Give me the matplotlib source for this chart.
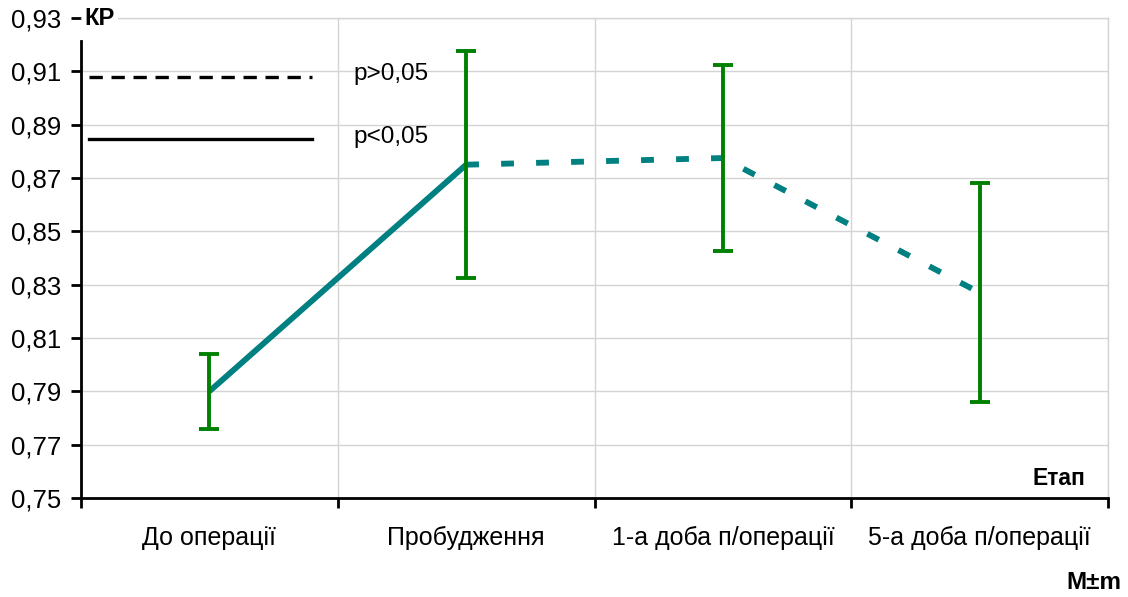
import matplotlib
matplotlib.use('Agg')
import matplotlib.pyplot as plt
import numpy as np

plt.rcParams['font.family'] = ['Liberation Sans', 'DejaVu Sans']

stages = ['До операції', 'Пробудження', '1-а доба п/операції', '5-а доба п/операції']
kr_mean = [0.790, 0.875, 0.8775, 0.827]
kr_err = [0.014, 0.0425, 0.035, 0.041]
y_ticks = [0.75, 0.77, 0.79, 0.81, 0.83, 0.85, 0.87, 0.89, 0.91, 0.93]

teal = '#008080'
green = '#008000'

fig = plt.figure(figsize=(11.28, 5.97), dpi=100)
ax = fig.add_axes([0.0718, 0.1658, 0.9105, 0.804])

x = np.arange(len(stages)) + 0.5
ax.set_xlim(0, len(stages))
ax.set_ylim(0.75, 0.93)

# grid
for yv in y_ticks[1:]:
    ax.axhline(yv, color='#d4d4d4', lw=1, zorder=0)
for xv in range(1, len(stages) + 1):
    ax.axvline(xv, color='#d4d4d4', lw=1, zorder=0)

# main line: solid for first segment, dashed for the rest
ax.plot(x[:2], kr_mean[:2], color=teal, lw=4.2, solid_capstyle='butt', zorder=3)
ax.plot(x[1:], kr_mean[1:], color=teal, lw=4.2, dashes=(2.2, 3.8), zorder=3)

ax.errorbar(x, kr_mean, yerr=kr_err, fmt='none', ecolor=green, elinewidth=2.8,
            capsize=7.5, capthick=2.8, zorder=4)

# legend drawn as lines
ax.plot([0.03, 0.9], [0.908, 0.908], color='black', lw=2.4, dashes=(4, 2.6))
ax.plot([0.03, 0.9], [0.8845, 0.8845], color='black', lw=2.4)
ax.text(1.06, 0.909, 'p>0,05', fontsize=17.5, va='center', ha='left')
ax.text(1.06, 0.8855, 'p<0,05', fontsize=17.5, va='center', ha='left')

# spines
for s in ['top', 'right']:
    ax.spines[s].set_color('#d4d4d4')
    ax.spines[s].set_linewidth(1)
ax.spines['left'].set_linewidth(2)
ax.spines['bottom'].set_linewidth(2)
ax.spines['left'].set_bounds(0.75, 0.9215)

ax.set_yticks(y_ticks)
ax.set_yticklabels([f'{v:.2f}'.replace('.', ',') for v in y_ticks], fontsize=18.5)
ax.set_xticks(range(len(stages) + 1))
ax.set_xticklabels([])
ax.set_xticks(x, minor=True)
ax.set_xticklabels(stages, minor=True, fontsize=18)
ax.tick_params(axis='x', which='major', direction='out', length=7, width=2)
ax.tick_params(axis='x', which='minor', length=0, pad=20)
ax.tick_params(axis='y', direction='out', length=7, width=2, pad=7)

# axis captions
ax.text(0.015, 0.93, 'КР', fontsize=17, fontweight='bold', va='center', ha='left',
        bbox=dict(facecolor='white', edgecolor='none', pad=2), zorder=5)
ax.text(3.91, 0.7575, 'Етап', fontsize=16.5, fontweight='bold', va='center', ha='right')
fig.text(0.994, 0.005, 'М±m', fontsize=17.5, fontweight='bold', va='bottom', ha='right')

fig.savefig('out.png', dpi=100)
